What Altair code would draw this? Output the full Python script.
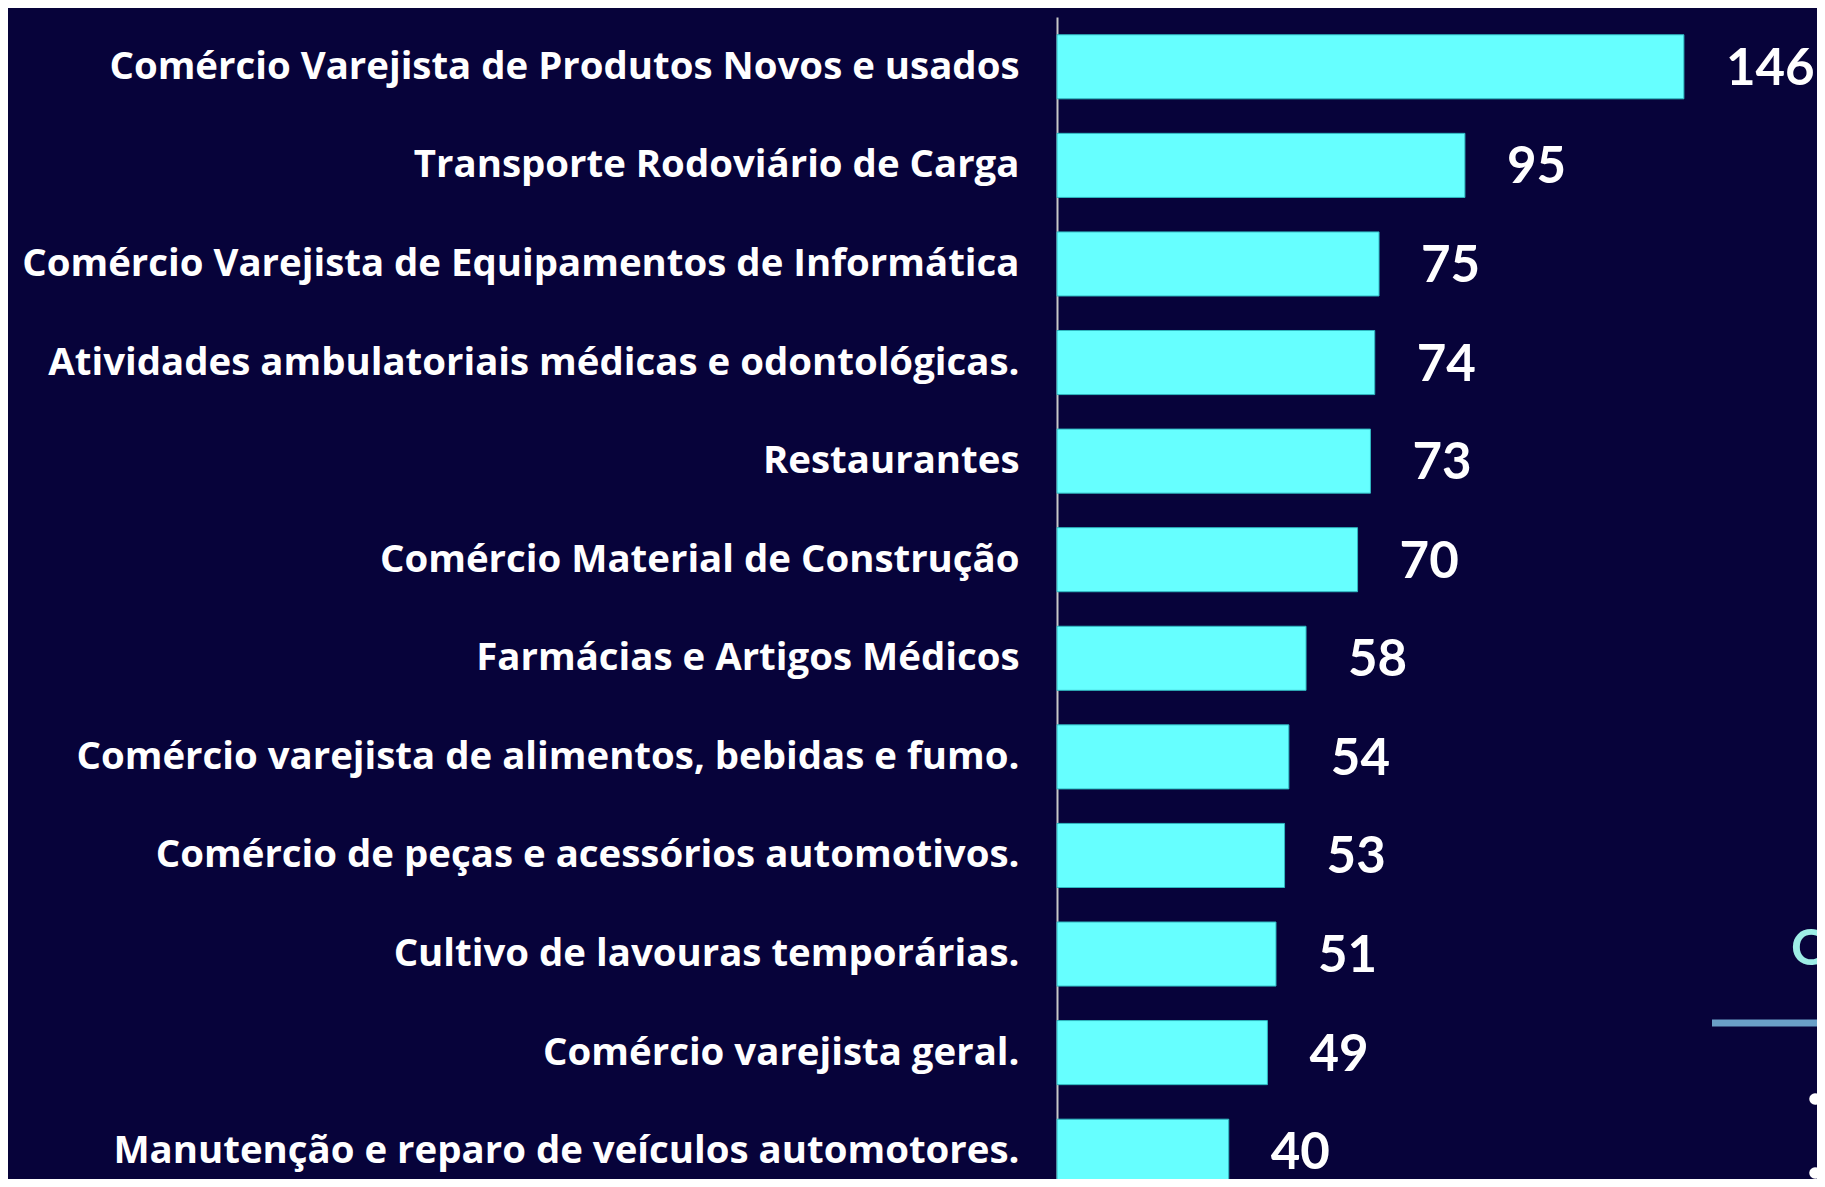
import altair as alt
import pandas as pd

categories = [
    "Comércio Varejista de Produtos Novos e usados",
    "Transporte Rodoviário de Carga",
    "Comércio Varejista de Equipamentos de Informática",
    "Atividades ambulatoriais médicas e odontológicas.",
    "Restaurantes",
    "Comércio Material de Construção",
    "Farmácias e Artigos Médicos",
    "Comércio varejista de alimentos, bebidas e fumo.",
    "Comércio de peças e acessórios automotivos.",
    "Cultivo de lavouras temporárias.",
    "Comércio varejista geral.",
    "Manutenção e reparo de veículos automotores.",
]
values = [146, 95, 75, 74, 73, 70, 58, 54, 53, 51, 49, 40]

df = pd.DataFrame({"atividade": categories, "qtd": values})

BG = "#07033a"
BAR = "#66ffff"
FONT = "Lato"

y_enc = alt.Y(
    "atividade:N",
    sort=categories,
    title=None,
    scale=alt.Scale(range=[0, 1184], paddingInner=0.35, paddingOuter=0.18),
    axis=alt.Axis(
        domain=True, domainColor="#c8c8c8", domainWidth=2,
        ticks=False, grid=False,
        labelColor="white", labelFont="Open Sans", labelFontWeight="bold",
        labelFontSize=38.4, labelPadding=38, labelLimit=0,
    ),
)
x_enc = alt.X("qtd:Q", scale=alt.Scale(domain=[0, 177]), axis=None)

bars = alt.Chart(df).mark_bar(color=BAR, stroke="#2fb8c0", strokeWidth=1).encode(x=x_enc, y=y_enc)
labels = alt.Chart(df).mark_text(
    align="left", baseline="middle", dx=42, dy=3,
    font=FONT, fontWeight="bold", fontSize=51, color="white",
).encode(x=x_enc, y=y_enc, text="qtd:Q")

one = pd.DataFrame({"d": [0]})
q_text = alt.Chart(one).mark_text(
    align="left", baseline="middle", font=FONT, fontWeight="bold",
    fontSize=50, color="#9eeee6",
).encode(x=alt.value(734), y=alt.value(933), text=alt.value("Q"))
line = alt.Chart(one).mark_rule(color="#6aa0c8", strokeWidth=7).encode(
    x=alt.value(655), x2=alt.value(770), y=alt.value(1006)
)
dot1 = alt.Chart(one).mark_circle(color="white", opacity=1, size=133).encode(
    x=alt.value(758), y=alt.value(1082)
)
dot2 = alt.Chart(one).mark_circle(color="white", opacity=1, size=133).encode(
    x=alt.value(758), y=alt.value(1156)
)

chart = alt.layer(bars, labels, q_text, line, dot1, dot2).properties(
    width=760,
    height=1162,
    background=BG,
    autosize=alt.AutoSizeParams(type="none"),
    padding={"left": 1049, "top": 9, "right": 0, "bottom": 0},
).configure_view(stroke=None)

chart.save("out.html", embed_options={"renderer": "svg", "actions": False})
